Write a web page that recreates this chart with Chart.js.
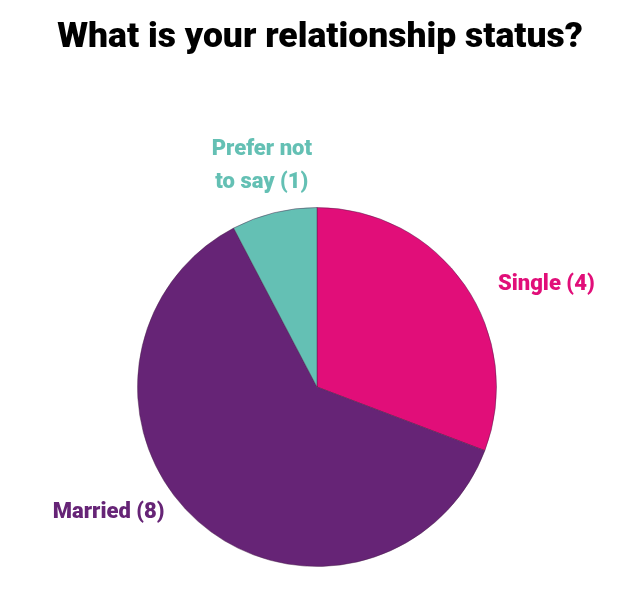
<!DOCTYPE html>
<html>
<head>
<meta charset="utf-8">
<script src="https://cdn.jsdelivr.net/npm/chart.js@4.4.1/dist/chart.umd.min.js"></script>
<style>
  html, body { margin: 0; padding: 0; background: #fff; }
  #wrap { width: 640px; height: 600px; position: relative; }
</style>
</head>
<body>
<div id="wrap"><canvas id="pieChart" width="640" height="600"></canvas></div>
<script>
const categories = ['Single', 'Married', 'Prefer not to say'];
const counts = [4, 8, 1];
const sliceColors = ['#e10e79', '#662476', '#64c0b4'];
const labelLines = [['Single (4)'], ['Married (8)'], ['Prefer not', 'to say (1)']];
const titleText = 'What is your relationship status?';

// where each label sits: angle (deg from top, clockwise) and distance from centre
const labelPlace = [
  { angle: 66, dist: 251 },
  { angle: 239, dist: 243 },
  { angle: 346, dist: 228 }
];

const labelFont = '900 22px Roboto, "Noto Sans", sans-serif';

const outsideLabels = {
  id: 'outsideLabels',
  afterDraw(chart) {
    const ctx = chart.ctx;
    const arc = chart.getDatasetMeta(0).data[0];
    const cx = arc.x, cy = arc.y;
    ctx.save();
    ctx.textAlign = 'center';
    ctx.textBaseline = 'middle';
    ctx.fillStyle = '#000';
    // scale title so it spans about 526px like the original
    ctx.font = '900 34px Roboto, sans-serif';
    const w = ctx.measureText(titleText).width;
    ctx.font = '900 ' + (34 * 526 / w).toFixed(1) + 'px Roboto, sans-serif';
    ctx.fillText(titleText, 320, 38);
    ctx.font = labelFont;
    labelLines.forEach((lines, i) => {
      const a = labelPlace[i].angle * Math.PI / 180;
      const x = cx + labelPlace[i].dist * Math.sin(a);
      const y = cy - labelPlace[i].dist * Math.cos(a);
      ctx.fillStyle = sliceColors[i];
      const lh = 33;
      lines.forEach((t, j) => {
        ctx.fillText(t, x, y + (j - (lines.length - 1) / 2) * lh);
      });
    });
    ctx.restore();
  }
};

new Chart(document.getElementById('pieChart'), {
  type: 'pie',
  data: {
    labels: categories,
    datasets: [{
      data: counts,
      backgroundColor: sliceColors,
      borderColor: 'rgba(70,30,70,0.45)',
      borderWidth: 1
    }]
  },
  options: {
    responsive: false,
    animation: false,
    layout: { padding: { top: 207, bottom: 33, left: 137, right: 143 } },
    plugins: {
      legend: { display: false },
      tooltip: { enabled: false }
    }
  },
  plugins: [outsideLabels]
});
</script>
</body>
</html>
